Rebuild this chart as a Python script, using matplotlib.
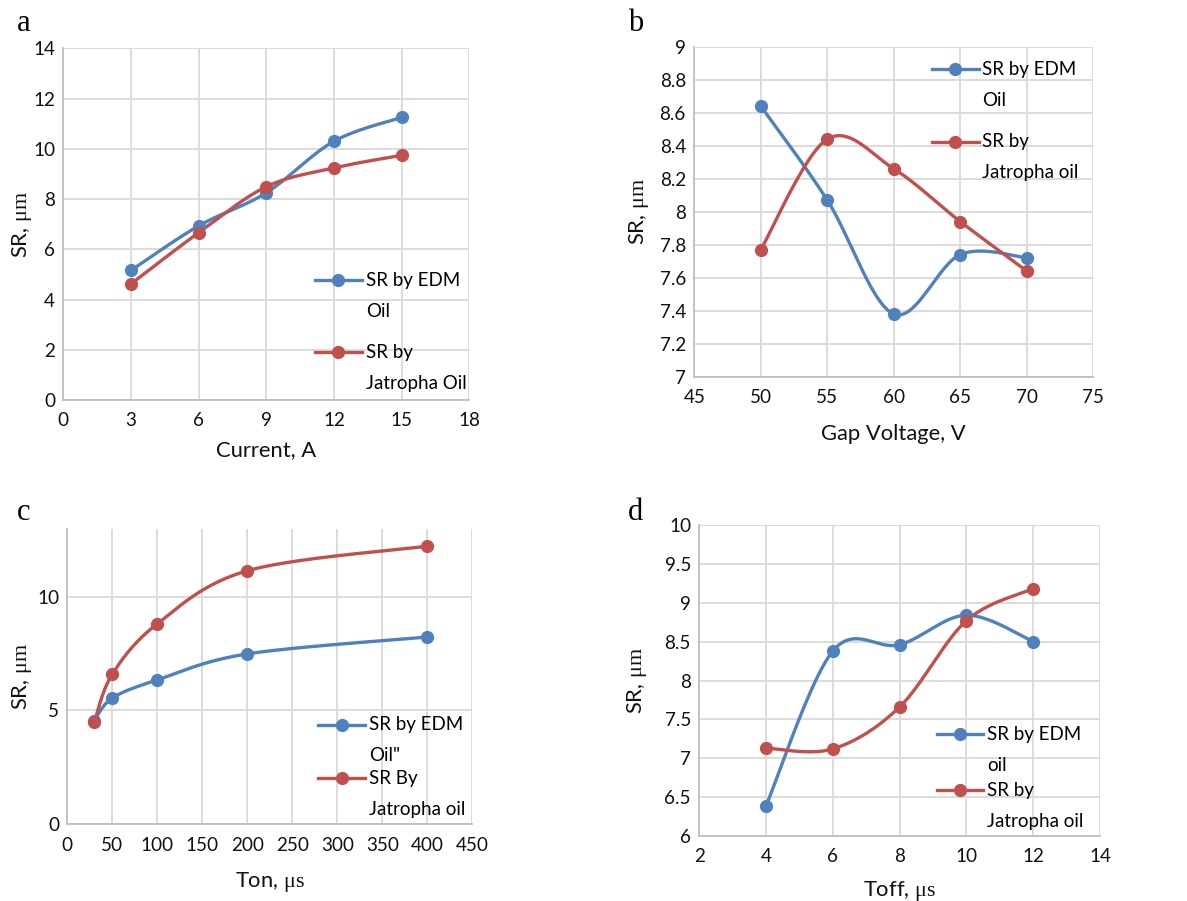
import numpy as np
import matplotlib
matplotlib.use("Agg")
import matplotlib.pyplot as plt

plt.rcParams['font.family'] = ['Lato', 'DejaVu Sans']
plt.rcParams['mathtext.fontset'] = 'custom'
plt.rcParams['mathtext.rm'] = 'Liberation Serif'

# panel a: current
current = [3, 6, 9, 12, 15]
a_edm = [5.16, 6.93, 8.25, 10.30, 11.25]
a_jat = [4.62, 6.66, 8.49, 9.24, 9.74]

# panel b: gap voltage
voltage = [50, 55, 60, 65, 70]
b_edm = [8.64, 8.07, 7.38, 7.74, 7.72]
b_jat = [7.77, 8.44, 8.26, 7.94, 7.64]

# panel c: Ton
ton = [30, 50, 100, 200, 400]
c_edm = [4.55, 5.54, 6.34, 7.48, 8.22]
c_jat = [4.49, 6.59, 8.80, 11.13, 12.21]

# panel d: Toff
toff = [4, 6, 8, 10, 12]
d_edm = [6.39, 8.38, 8.46, 8.84, 8.50]
d_jat = [7.13, 7.12, 7.66, 8.77, 9.18]

BLUE = '#4F81BD'
RED = '#C0504D'
LEGFS = 13.5
LINESP = 2.0


def smooth(x, y, n=40):
    # excel-like smoothed line (catmull-rom bezier)
    x = np.asarray(x, float)
    y = np.asarray(y, float)
    px = np.concatenate([[x[0]], x, [x[-1]]])
    py = np.concatenate([[y[0]], y, [y[-1]]])
    xs, ys = [], []
    t = np.linspace(0, 1, n)
    for i in range(1, len(px) - 2):
        p0 = np.array([px[i], py[i]])
        p3 = np.array([px[i + 1], py[i + 1]])
        c1 = p0 + (np.array([px[i + 1], py[i + 1]]) - np.array([px[i - 1], py[i - 1]])) / 6
        c2 = p3 - (np.array([px[i + 2], py[i + 2]]) - np.array([px[i], py[i]])) / 6
        b = ((1 - t) ** 3)[:, None] * p0 + (3 * (1 - t) ** 2 * t)[:, None] * c1 \
            + (3 * (1 - t) * t ** 2)[:, None] * c2 + (t ** 3)[:, None] * p3
        xs.extend(b[:, 0])
        ys.extend(b[:, 1])
    return xs, ys


def panel(ax, x, y1, y2, lab1, lab2, xlim, xticks, ylim, yticks, xlabel,
          leg_pos, lspace, xlab_y, ylab_x, letter, letter_pos):
    for y, c, lab in [(y1, BLUE, lab1), (y2, RED, lab2)]:
        sx, sy = smooth(x, y)
        ax.plot(sx, sy, color=c, lw=2.4, solid_capstyle='round', zorder=3)
        ax.plot(x, y, 'o', color=c, ms=8.5, zorder=4)
        ax.plot([], [], '-o', color=c, lw=2.4, ms=8.5, label=lab)
    ax.set_xlim(*xlim)
    ax.set_ylim(*ylim)
    ax.set_xticks(xticks)
    ax.set_yticks(yticks)
    ax.set_xticklabels([f'{v:g}' for v in xticks])
    ax.set_yticklabels([f'{v:g}' for v in yticks])
    ax.grid(True, color='#D9D9D9', lw=1.3)
    ax.set_axisbelow(True)
    for s in ['top', 'right']:
        ax.spines[s].set_visible(False)
    for s in ['left', 'bottom']:
        ax.spines[s].set_color('#BFBFBF')
        ax.spines[s].set_linewidth(1.3)
    ax.tick_params(length=0, labelsize=13.6, colors='#111111')
    ax.tick_params(axis='x', pad=9)
    ax.tick_params(axis='y', pad=6)
    ax.set_xlabel(xlabel, fontsize=15.8, color='#111111')
    ax.set_ylabel('SR, $\\mathrm{μm}$', fontsize=15.8, color='#111111')
    ax.xaxis.set_label_coords(0.5, xlab_y)
    ax.yaxis.set_label_coords(ylab_x, 0.5)
    leg = ax.legend(loc='upper left', bbox_to_anchor=leg_pos, frameon=False,
                    fontsize=LEGFS, handlelength=2.5, handletextpad=0.2,
                    borderpad=0, borderaxespad=0, labelspacing=lspace)
    for t in leg.get_texts():
        t.set_linespacing(LINESP)
    # put the handle level with the first text line
    for h in leg.legend_handles:
        h.set_ydata(np.asarray(h.get_ydata()) + 11.5)
    ax.figure.text(letter_pos[0], letter_pos[1], letter, fontsize=22,
                   family='Liberation Serif', va='baseline', ha='left')


fig = plt.figure(figsize=(11.87, 9.01), dpi=100)
W, H = 1187, 901


def add_ax(l, t, r, b):
    return fig.add_axes([l / W, 1 - b / H, (r - l) / W, (b - t) / H])


ax_a = add_ax(63.3, 48.3, 469.3, 400)
ax_b = add_ax(694.3, 46.7, 1093.3, 376.7)
ax_c = add_ax(67.3, 529.3, 472.3, 824.3)
ax_d = add_ax(699.3, 525, 1100, 836)

panel(ax_a, current, a_edm, a_jat, 'SR by EDM\nOil', 'SR by\nJatropha Oil',
      (0, 18), [0, 3, 6, 9, 12, 15, 18], (0, 14), [0, 2, 4, 6, 8, 10, 12, 14],
      'Current, A', (0.62, 0.365), 1.3, -0.114, -0.072, 'a', (17 / W, 1 - 31 / H))
panel(ax_b, voltage, b_edm, b_jat, 'SR by EDM\nOil', 'SR by\nJatropha oil',
      (45, 75), [45, 50, 55, 60, 65, 70, 75], (7, 9),
      [7, 7.2, 7.4, 7.6, 7.8, 8, 8.2, 8.4, 8.6, 8.8, 9],
      'Gap Voltage, V', (0.595, 0.957), 1.3, -0.142, -0.109, 'b', (628 / W, 1 - 31 / H))
panel(ax_c, ton, c_edm, c_jat, 'SR by EDM\nOil"', 'SR By\nJatropha oil',
      (0, 450), [0, 50, 100, 150, 200, 250, 300, 350, 400, 450], (0, 12.95),
      [0, 5, 10], 'Ton, $\\mathrm{μs}$', (0.62, 0.366), 0.3, -0.155, -0.082,
      'c', (17 / W, 1 - 520 / H))
panel(ax_d, toff, d_edm, d_jat, 'SR by EDM\noil', 'SR by\nJatropha oil',
      (2, 14), [2, 4, 6, 8, 10, 12, 14], (6, 10),
      [6, 6.5, 7, 7.5, 8, 8.5, 9, 9.5, 10],
      'Toff, $\\mathrm{μs}$', (0.592, 0.355), 0.45, -0.137, -0.1255,
      'd', (628 / W, 1 - 520 / H))

fig.savefig('out.png', dpi=100)
